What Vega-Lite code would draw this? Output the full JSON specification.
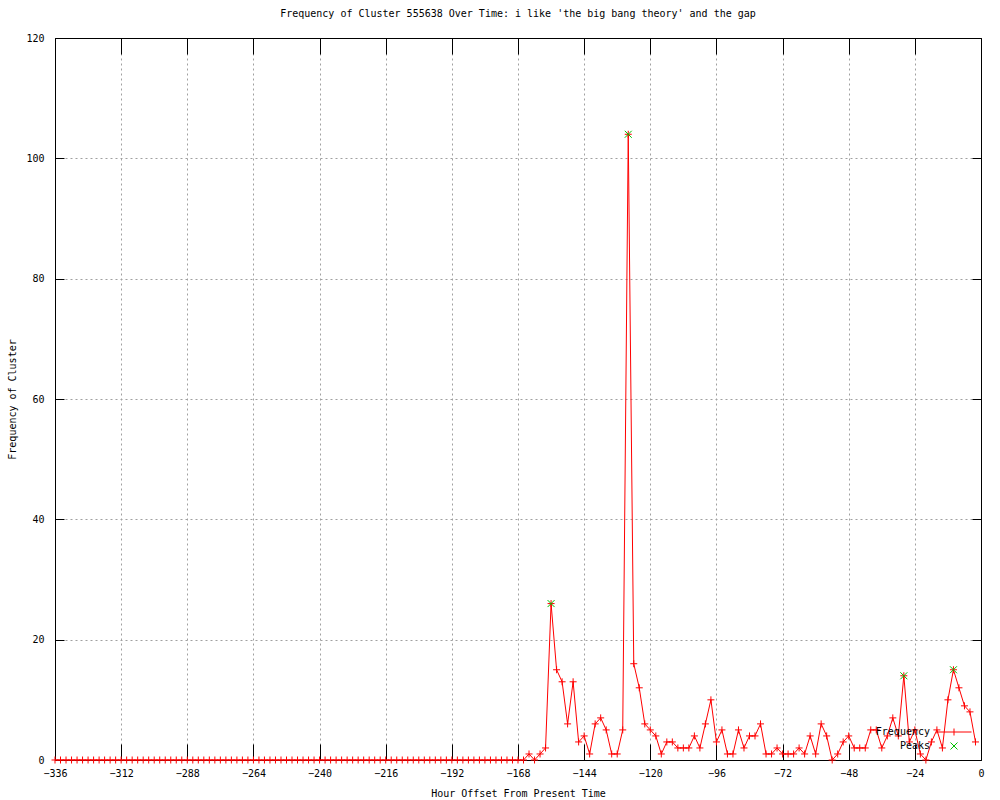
{
  "$schema": "https://vega.github.io/schema/vega-lite/v6.json",
  "width": 926,
  "height": 722,
  "autosize": {"type": "none"},
  "padding": {"left": 55, "top": 38, "right": 19, "bottom": 40},
  "background": "white",
  "title": {"text": "Frequency of Cluster 555638 Over Time: i like 'the big bang theory' and the gap", "font": "DejaVu Sans Mono", "fontSize": 10, "fontWeight": "normal", "color": "black", "offset": 14, "anchor": "middle"},
  "datasets": {
    "freq": [
      {"h":-336,"f":0},{"h":-334,"f":0},{"h":-332,"f":0},{"h":-330,"f":0},{"h":-328,"f":0},{"h":-326,"f":0},{"h":-324,"f":0},{"h":-322,"f":0},{"h":-320,"f":0},{"h":-318,"f":0},{"h":-316,"f":0},{"h":-314,"f":0},{"h":-312,"f":0},{"h":-310,"f":0},{"h":-308,"f":0},{"h":-306,"f":0},{"h":-304,"f":0},{"h":-302,"f":0},{"h":-300,"f":0},{"h":-298,"f":0},{"h":-296,"f":0},{"h":-294,"f":0},{"h":-292,"f":0},{"h":-290,"f":0},{"h":-288,"f":0},{"h":-286,"f":0},{"h":-284,"f":0},{"h":-282,"f":0},{"h":-280,"f":0},{"h":-278,"f":0},{"h":-276,"f":0},{"h":-274,"f":0},{"h":-272,"f":0},{"h":-270,"f":0},{"h":-268,"f":0},{"h":-266,"f":0},{"h":-264,"f":0},{"h":-262,"f":0},{"h":-260,"f":0},{"h":-258,"f":0},{"h":-256,"f":0},{"h":-254,"f":0},{"h":-252,"f":0},{"h":-250,"f":0},{"h":-248,"f":0},{"h":-246,"f":0},{"h":-244,"f":0},{"h":-242,"f":0},{"h":-240,"f":0},{"h":-238,"f":0},{"h":-236,"f":0},{"h":-234,"f":0},{"h":-232,"f":0},{"h":-230,"f":0},{"h":-228,"f":0},{"h":-226,"f":0},{"h":-224,"f":0},{"h":-222,"f":0},{"h":-220,"f":0},{"h":-218,"f":0},{"h":-216,"f":0},{"h":-214,"f":0},{"h":-212,"f":0},{"h":-210,"f":0},{"h":-208,"f":0},{"h":-206,"f":0},{"h":-204,"f":0},{"h":-202,"f":0},{"h":-200,"f":0},{"h":-198,"f":0},{"h":-196,"f":0},{"h":-194,"f":0},{"h":-192,"f":0},{"h":-190,"f":0},{"h":-188,"f":0},{"h":-186,"f":0},{"h":-184,"f":0},{"h":-182,"f":0},{"h":-180,"f":0},{"h":-178,"f":0},{"h":-176,"f":0},{"h":-174,"f":0},{"h":-172,"f":0},{"h":-170,"f":0},
      {"h":-168,"f":0},{"h":-166,"f":0},{"h":-164,"f":1},{"h":-162,"f":0},{"h":-160,"f":1},{"h":-158,"f":2},{"h":-156,"f":26},{"h":-154,"f":15},{"h":-152,"f":13},{"h":-150,"f":6},{"h":-148,"f":13},{"h":-146,"f":3},{"h":-144,"f":4},{"h":-142,"f":1},{"h":-140,"f":6},{"h":-138,"f":7},{"h":-136,"f":5},{"h":-134,"f":1},{"h":-132,"f":1},{"h":-130,"f":5},{"h":-128,"f":104},{"h":-126,"f":16},{"h":-124,"f":12},{"h":-122,"f":6},{"h":-120,"f":5},{"h":-118,"f":4},{"h":-116,"f":1},{"h":-114,"f":3},{"h":-112,"f":3},{"h":-110,"f":2},{"h":-108,"f":2},{"h":-106,"f":2},{"h":-104,"f":4},{"h":-102,"f":2},{"h":-100,"f":6},{"h":-98,"f":10},{"h":-96,"f":3},{"h":-94,"f":5},{"h":-92,"f":1},{"h":-90,"f":1},{"h":-88,"f":5},{"h":-86,"f":2},{"h":-84,"f":4},{"h":-82,"f":4},{"h":-80,"f":6},{"h":-78,"f":1},{"h":-76,"f":1},{"h":-74,"f":2},{"h":-72,"f":1},{"h":-70,"f":1},{"h":-68,"f":1},{"h":-66,"f":2},{"h":-64,"f":1},{"h":-62,"f":4},{"h":-60,"f":1},{"h":-58,"f":6},{"h":-56,"f":4},{"h":-54,"f":0},{"h":-52,"f":1},{"h":-50,"f":3},{"h":-48,"f":4},{"h":-46,"f":2},{"h":-44,"f":2},{"h":-42,"f":2},{"h":-40,"f":5},{"h":-38,"f":5},{"h":-36,"f":2},{"h":-34,"f":4},{"h":-32,"f":7},{"h":-30,"f":4},{"h":-28,"f":14},{"h":-26,"f":3},{"h":-24,"f":5},{"h":-22,"f":1},{"h":-20,"f":0},{"h":-18,"f":3},{"h":-16,"f":5},{"h":-14,"f":2},{"h":-12,"f":10},{"h":-10,"f":15},{"h":-8,"f":12},{"h":-6,"f":9},{"h":-4,"f":8},{"h":-2,"f":3}
    ],
    "peaks": [
      {"h":-156,"f":26},{"h":-128,"f":104},{"h":-28,"f":14},{"h":-10,"f":15}
    ]
  },
  "config": {
    "view": {"stroke": null},
    "axis": {
      "domainColor": "black", "domainWidth": 1, "tickColor": "black", "tickWidth": 1,
      "labelFont": "DejaVu Sans Mono", "labelFontSize": 10, "labelColor": "black",
      "titleFont": "DejaVu Sans Mono", "titleFontSize": 10, "titleFontWeight": "normal", "titleColor": "black",
      "gridColor": "#a0a0a0", "gridDash": [2, 3], "gridOpacity": 1, "gridWidth": 1,
      "labelFlush": false, "labelOverlap": false
    },
    "legend": {
      "title": null, "orient": "none", "legendX": 894, "legendY": 689, "labelAlign": "right", "labelOffset": -29,
      "labelFont": "DejaVu Sans Mono", "labelFontSize": 10, "labelColor": "black", "symbolSize": 49, "symbolStrokeWidth": 1, "rowPadding": 2, "padding": 0
    }
  },
  "layer": [
    {
      "data": {"name": "freq"},
      "mark": {"type": "line", "color": "#ff0000", "strokeWidth": 1},
      "encoding": {
        "x": {"field": "h", "type": "quantitative", "scale": {"domain": [-336, 0], "nice": false, "zero": false},
          "axis": {"orient": "bottom", "values": [-336,-312,-288,-264,-240,-216,-192,-168,-144,-120,-96,-72,-48,-24,0], "title": "Hour Offset From Present Time", "grid": true, "tickSize": -16, "labelPadding": 24, "titlePadding": 10}},
        "y": {"field": "f", "type": "quantitative", "scale": {"domain": [0, 120], "nice": false},
          "axis": {"orient": "left", "values": [0,20,40,60,80,100,120], "title": "Frequency of Cluster", "grid": true, "tickSize": -9, "labelPadding": 20, "titlePadding": 8}}
      }
    },
    {
      "data": {"name": "freq"},
      "mark": {"type": "point", "filled": false, "size": 49, "strokeWidth": 1, "opacity": 1, "shape": "M-1,0L1,0M0,-1L0,1"},
      "encoding": {
        "x": {"field": "h", "type": "quantitative",
          "axis": {"orient": "top", "values": [-336,-312,-288,-264,-240,-216,-192,-168,-144,-120,-96,-72,-48,-24,0], "labels": false, "title": null, "grid": false, "tickSize": -16}},
        "y": {"field": "f", "type": "quantitative",
          "axis": {"orient": "right", "values": [0,20,40,60,80,100,120], "labels": false, "title": null, "grid": false, "tickSize": -9}},
        "color": {"datum": "Frequency", "type": "nominal",
          "scale": {"domain": ["Frequency", "Peaks"], "range": ["#ff0000", "#00c000"]}}
      }
    },
    {
      "data": {"name": "peaks"},
      "mark": {"type": "point", "filled": false, "size": 49, "strokeWidth": 1, "opacity": 1},
      "encoding": {
        "x": {"field": "h", "type": "quantitative", "axis": null},
        "y": {"field": "f", "type": "quantitative", "axis": null},
        "color": {"datum": "Peaks", "type": "nominal"},
        "shape": {"datum": "Peaks", "type": "nominal",
          "scale": {"domain": ["Frequency", "Peaks"], "range": ["M-5,0L5,0M0,-1L0,1", "M-1,-1L1,1M-1,1L1,-1"]}}
      }
    }
  ],
  "resolve": {"axis": {"x": "independent", "y": "independent"}}
}
